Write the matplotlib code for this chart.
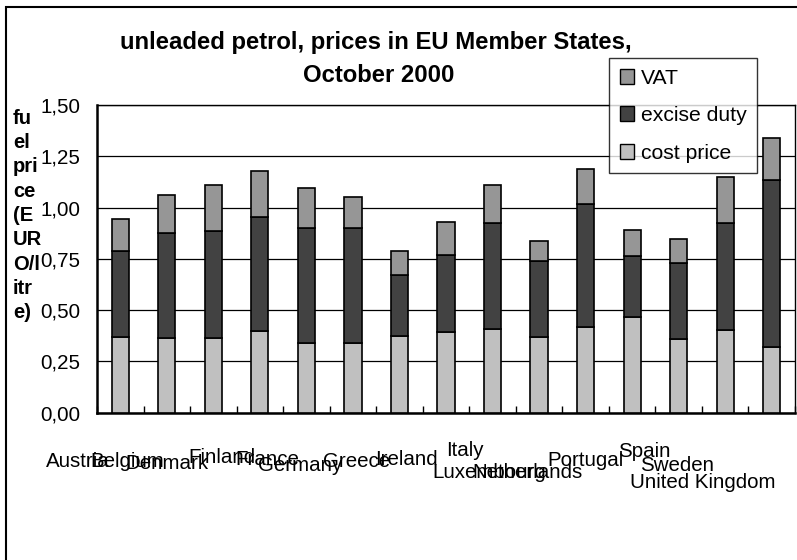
import matplotlib
matplotlib.use("Agg")
import matplotlib.pyplot as plt
from matplotlib.patches import Patch, Rectangle
from matplotlib import transforms
import numpy as np

# ---- data ----
countries = ["Austria", "Belgium", "Denmark", "Finland", "France", "Germany",
             "Greece", "Ireland", "Italy", "Luxembourg", "Netherlands",
             "Portugal", "Spain", "Sweden", "United Kingdom"]
cost_price = [0.368, 0.366, 0.366, 0.399, 0.342, 0.342, 0.375, 0.393, 0.407,
              0.368, 0.417, 0.466, 0.360, 0.401, 0.319]
excise_duty = [0.420, 0.512, 0.522, 0.554, 0.560, 0.560, 0.298, 0.377, 0.520,
               0.370, 0.601, 0.298, 0.370, 0.526, 0.813]
vat = [0.157, 0.182, 0.221, 0.223, 0.191, 0.150, 0.117, 0.158, 0.182,
       0.099, 0.172, 0.125, 0.119, 0.223, 0.205]
yticks = [0.0, 0.25, 0.5, 0.75, 1.0, 1.25, 1.5]
ytick_labels = ["0,00", "0,25", "0,50", "0,75", "1,00", "1,25", "1,50"]
title_lines = ["unleaded petrol, prices in EU Member States,", "October 2000"]
ylabel_lines = ["fu", "el", "pri", "ce", "(E", "UR", "O/l", "itr", "e)"]

# ---- layout (pixel offsets of the staggered category labels) ----
label_dx = [-42, -40, -46, -38, -39, -53, -43, -40, -28, -50, -58, -47, -34, -48, -69]
label_dy = [54, 54, 56, 50, 52, 58, 54, 52, 43, 65, 65, 53, 44, 58, 75]

W, H = 797, 560
plt.rcParams['font.family'] = ['Liberation Sans', 'DejaVu Sans']
fig = plt.figure(figsize=(W / 100, H / 100), dpi=100)
fig.patch.set_facecolor('white')

ax_l, ax_r, ax_t, ax_b = 97, 795, 105, 412.7
ax = fig.add_axes([ax_l / W, 1 - ax_b / H, (ax_r - ax_l) / W, (ax_b - ax_t) / H])

x = np.arange(len(countries))
bw = 0.37
c_cost, c_exc, c_vat = '#C0C0C0', '#424242', '#969696'
ekw = dict(edgecolor='black', linewidth=1.2, zorder=3)
ax.bar(x, cost_price, bw, color=c_cost, **ekw)
ax.bar(x, excise_duty, bw, bottom=cost_price, color=c_exc, **ekw)
bot2 = np.array(cost_price) + np.array(excise_duty)
ax.bar(x, vat, bw, bottom=bot2, color=c_vat, **ekw)

ax.set_xlim(-0.5, len(countries) - 0.5)
ax.set_ylim(0, 1.5)
ax.set_yticks(yticks)
ax.set_yticklabels(ytick_labels, fontsize=14.8)
ax.tick_params(axis='y', length=0, pad=12)
ax.yaxis.grid(True, color='black', linewidth=0.9, zorder=0)
ax.set_axisbelow(True)

ax.set_xticks(np.arange(-0.5, len(countries), 1.0))
ax.set_xticklabels([])
ax.tick_params(axis='x', direction='in', length=5, width=1, color='black')

for s in ['left', 'bottom']:
    ax.spines[s].set_linewidth(1.8)
for s in ['top', 'right']:
    ax.spines[s].set_linewidth(1.0)

base = ax.get_xaxis_transform()
for i, name in enumerate(countries):
    tr = transforms.offset_copy(base, fig=fig, x=label_dx[i], y=-label_dy[i], units='dots')
    ax.text(x[i], 0, name, transform=tr, ha='center', va='baseline',
            fontsize=14.8, clip_on=False)

# title
fig.text(376 / W, 1 - 42 / H, title_lines[0], ha='center', va='center',
         fontsize=17.2, fontweight='bold')
fig.text(379 / W, 1 - 76 / H, title_lines[1], ha='center', va='center',
         fontsize=17.2, fontweight='bold')

# y label, one short line at a time
for k, t in enumerate(ylabel_lines):
    fig.text(13 / W, 1 - (124 + 24.25 * k) / H, t, ha='left', va='baseline',
             fontsize=14.5, fontweight='bold')

# legend
handles = [Patch(facecolor=c_vat, edgecolor='black', linewidth=1.0, label='VAT'),
           Patch(facecolor=c_exc, edgecolor='black', linewidth=1.0, label='excise duty'),
           Patch(facecolor=c_cost, edgecolor='black', linewidth=1.0, label='cost price')]
leg = fig.legend(handles=handles, loc='upper left',
                 bbox_to_anchor=(609 / W, 1 - 58 / H), bbox_transform=fig.transFigure,
                 fontsize=15.2, frameon=True, fancybox=False, shadow=False,
                 borderpad=0.5, labelspacing=0.88, handlelength=0.7,
                 handleheight=0.7, handletextpad=0.3, borderaxespad=0)
leg.get_frame().set_edgecolor('black')
leg.get_frame().set_linewidth(1.0)

# outer chart frame (cropped at right and bottom)
fig.patches.append(Rectangle((6 / W, -0.1), 1.2, 1 - 7 / H + 0.1,
                             transform=fig.transFigure, fill=False,
                             edgecolor='black', linewidth=1.5))

fig.savefig('out.png', dpi=100)
